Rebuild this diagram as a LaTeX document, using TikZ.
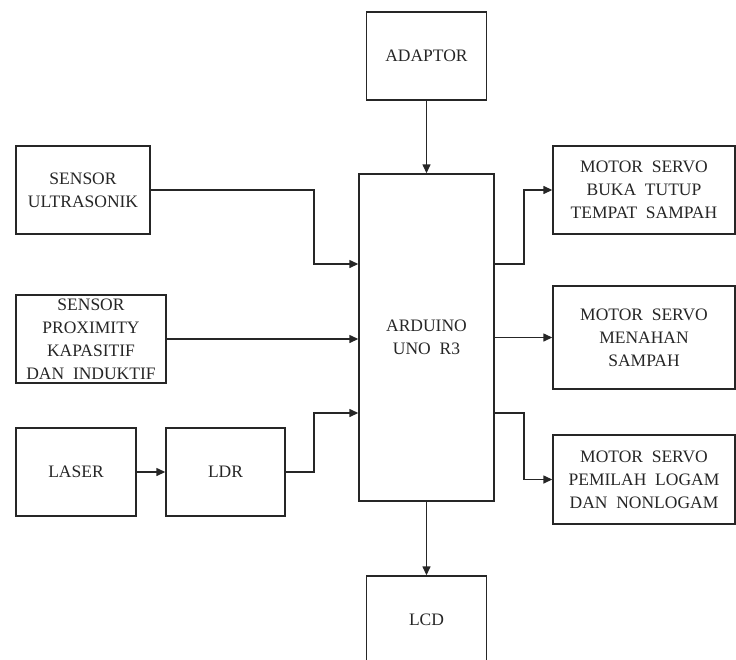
\documentclass[tikz,border=0pt]{standalone}
\usepackage{fontspec}
\setmainfont{Liberation Serif}
\usetikzlibrary{arrows.meta}
\begin{document}
\begin{tikzpicture}[x=1pt,y=-1pt,
  blk/.style={draw=black!85, line width=1.4pt, fill=white, align=center,
    inner sep=0pt, font=\fontsize{17.5}{23}\selectfont, text=black!85},
  arr/.style={draw=black!85, line width=1.4pt, -{Triangle[length=9pt,width=8pt]}},
  ln/.style={draw=black!85, line width=1.4pt}]
\useasboundingbox (0,0) rectangle (736,659);
\node[blk, minimum width=120pt, minimum height=88pt] (adaptor) at (426.5,56) {ADAPTOR};
\node[blk, minimum width=135pt, minimum height=327pt] (arduino) at (426.5,337.5) {ARDUINO\\UNO~ R3};
\node[blk, minimum width=134pt, minimum height=88pt] (ultra) at (83,190) {SENSOR\\ULTRASONIK};
\node[blk, minimum width=150pt, minimum height=88pt] (prox) at (91,339) {SENSOR\\PROXIMITY\\KAPASITIF\\DAN~ INDUKTIF};
\node[blk, minimum width=120pt, minimum height=88pt] (laser) at (76,472) {LASER};
\node[blk, minimum width=119pt, minimum height=88pt] (ldr) at (225.5,472) {LDR};
\node[blk, minimum width=182pt, minimum height=88pt] (servoa) at (644,190) {MOTOR~ SERVO\\BUKA~ TUTUP\\TEMPAT~ SAMPAH};
\node[blk, minimum width=182pt, minimum height=103pt] (servob) at (644,337.5) {MOTOR~ SERVO\\MENAHAN\\SAMPAH};
\node[blk, minimum width=182pt, minimum height=89pt] (servoc) at (644,479.5) {MOTOR~ SERVO\\PEMILAH~ LOGAM\\DAN~ NONLOGAM};
\node[blk, minimum width=120pt, minimum height=88pt] (lcd) at (426.5,620) {LCD};
% connectors
\coordinate (ua) at (314,264);
\coordinate (la) at (314,413);
\coordinate (ra) at (524,264);
\coordinate (rc) at (524,413);
\draw[arr] (adaptor.south) -- (arduino.north);
\draw[arr] (ultra.east) -| (ua) -- (ua -| arduino.west);
\draw[arr] (prox.east) -- (prox.east -| arduino.west);
\draw[arr] (laser.east) -- (ldr.west);
\draw[arr] (ldr.east) -| (la) -- (la -| arduino.west);
\draw[arr] (ra -| arduino.east) -- (ra) |- (servoa.west);
\draw[arr] (servob.west -| arduino.east) -- (servob.west);
\draw[arr] (rc -| arduino.east) -- (rc) |- (servoc.west);
\draw[arr] (arduino.south) -- (lcd.north);
\end{tikzpicture}
\end{document}
